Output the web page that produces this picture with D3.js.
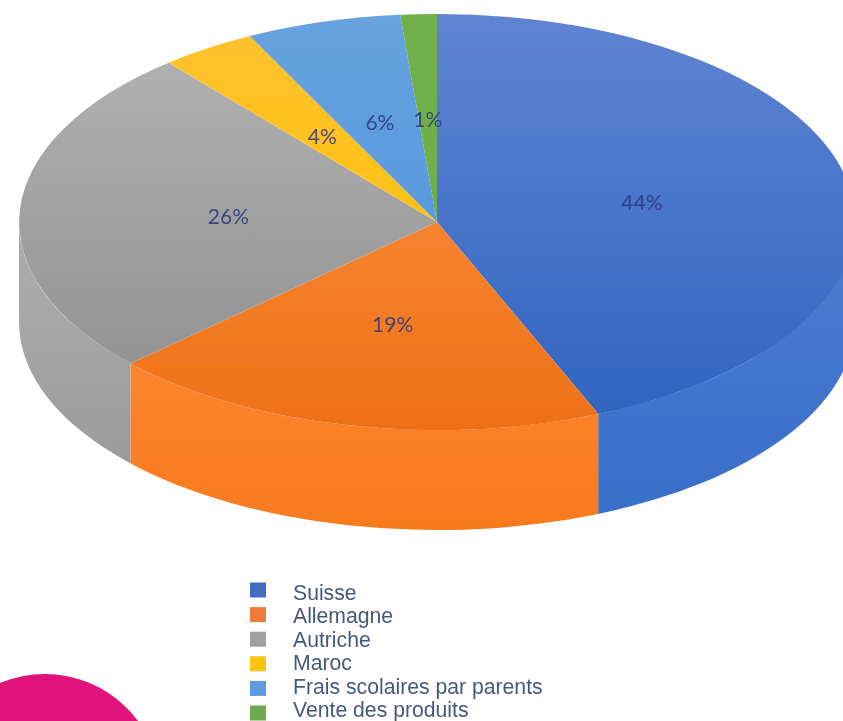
<!DOCTYPE html>
<html>
<head>
<meta charset="utf-8">
<script src="https://cdn.jsdelivr.net/npm/d3@7"></script>
<style>
  html, body { margin: 0; padding: 0; background: #fff; overflow: hidden; }
  svg { display: block; }
</style>
</head>
<body>
<svg id="chart" width="843" height="721"></svg>
<script>
var categories = ["Suisse", "Allemagne", "Autriche", "Maroc", "Frais scolaires par parents", "Vente des produits"]
// the printed labels are these rounded
var values = [43.7, 19.4, 25.8, 3.7, 6.0, 1.4]
var labels = ["44%", "19%", "26%", "4%", "6%", "1%"]
var colors = ["#3f6cc4", "#ed7d3a", "#a0a0a0", "#ffc50f", "#5b9be0", "#6fa84f"]
var topStart = ["#5f84d3", "#ff9a48", "#b4b4b4", "#ffc22e", "#67a3df", "#72b04c"]
var topEnd = ["#2f63bf", "#ee7018", "#8e8e8e", "#ffc000", "#4a8fdb", "#6aad45"]
var wallStart = ["#4a78cf", "#ff8a36", "#aaaaaa"]
var wallEnd = ["#356ec9", "#f97a1e", "#959595"]

var cx = 437, cy = 222, rx = 418, ry = 208, depth = 100

var svg = d3.select('#chart')
var defs = svg.append('defs')

defs.append('filter').attr('id', 'soft')
  .append('feGaussianBlur').attr('stdDeviation', 0.6)
defs.append('filter').attr('id', 'softer')
  .append('feGaussianBlur').attr('stdDeviation', 0.3)

// gradients are in unit space, the pie is drawn inside a scaled group
wallStart.forEach(function (c, i) {
  var g = defs.append('linearGradient').attr('id', 'wallU' + i)
    .attr('gradientUnits', 'userSpaceOnUse')
    .attr('x1', 0).attr('y1', 0.3).attr('x2', 0).attr('y2', 1 + depth / ry)
  g.append('stop').attr('offset', 0).attr('stop-color', wallStart[i])
  g.append('stop').attr('offset', 1).attr('stop-color', wallEnd[i])
})
categories.forEach(function (c, i) {
  var g = defs.append('linearGradient').attr('id', 'faceU' + i)
    .attr('gradientUnits', 'userSpaceOnUse')
    .attr('x1', 0).attr('y1', -1).attr('x2', 0).attr('y2', 1)
  g.append('stop').attr('offset', 0).attr('stop-color', topStart[i])
  g.append('stop').attr('offset', 1).attr('stop-color', topEnd[i])
})

var pie = d3.pie().sort(null).value(function (d) { return d })
var slices = pie(values)

// unit circle squashed into the ellipse, angle 0 is at 12 o'clock
var pieG = svg.append('g').attr('filter', 'url(#soft)')
var unit = pieG.append('g')
  .attr('transform', 'translate(' + cx + ',' + cy + ') scale(' + rx + ',' + ry + ')')

function wallPath(a0, a1) {
  var p = d3.path(), h = depth / ry
  var s = a0 - Math.PI / 2, e = a1 - Math.PI / 2
  p.moveTo(Math.cos(s), Math.sin(s))
  p.arc(0, 0, 1, s, e)
  p.lineTo(Math.cos(e), Math.sin(e) + h)
  p.arc(0, h, 1, e, s, true)
  p.closePath()
  return p.toString()
}

// only the front half of the wall can be seen
unit.selectAll('path.wall')
  .data(slices.filter(function (d) { return d.endAngle > Math.PI / 2 && d.startAngle < Math.PI * 1.5 }))
  .enter().append('path')
    .attr('class', 'wall')
    .attr('d', function (d) {
      return wallPath(Math.max(d.startAngle, Math.PI / 2), Math.min(d.endAngle, Math.PI * 1.5))
    })
    .attr('fill', function (d) { return 'url(#wallU' + d.index + ')' })

var arc = d3.arc().innerRadius(0).outerRadius(1)
unit.selectAll('path.face')
  .data(slices)
  .enter().append('path')
    .attr('class', 'face')
    .attr('d', arc)
    .attr('fill', function (d) { return 'url(#faceU' + d.index + ')' })

// data labels, halfway out on each slice
var labelRadius = 0.5
svg.append('g').selectAll('text')
  .data(slices)
  .enter().append('text')
    .attr('x', function (d) {
      var a = (d.startAngle + d.endAngle) / 2
      return cx + Math.sin(a) * labelRadius * rx
    })
    .attr('y', function (d) {
      var a = (d.startAngle + d.endAngle) / 2
      return cy - Math.cos(a) * labelRadius * ry
    })
    .attr('text-anchor', 'middle')
    .attr('dominant-baseline', 'central')
    .attr('font-family', 'Lato, "Open Sans", sans-serif')
    .attr('font-size', 21)
    .attr('fill', '#2c3580')
    .attr('fill-opacity', 0.85)
    .attr('filter', 'url(#soft)')
    .text(function (d) { return labels[d.index] })

// legend, markers and texts do not share the same spacing in the picture
var markerY = d3.scalePoint().domain(categories).range([590, 713])
var textY = d3.scalePoint().domain(categories).range([600, 717])
var legend = svg.append('g')
legend.selectAll('rect')
  .data(categories)
  .enter().append('rect')
    .attr('x', 250).attr('width', 16).attr('height', 15)
    .attr('y', function (d) { return markerY(d) - 7.5 })
    .attr('fill', function (d, i) { return colors[i] })
    .attr('filter', 'url(#soft)')
legend.selectAll('text')
  .data(categories)
  .enter().append('text')
    .attr('x', 293)
    .attr('y', function (d) { return textY(d) })
    .attr('font-family', '"Liberation Sans", Arial, sans-serif')
    .attr('font-size', 21.2)
    .attr('fill', '#47587f')
    .attr('filter', 'url(#softer)')
    .text(function (d) { return d })

// pink decoration, bottom left
svg.append('circle')
  .attr('cx', 44.8).attr('cy', 790).attr('r', 116)
  .attr('fill', '#e0147c')
</script>
</body>
</html>
